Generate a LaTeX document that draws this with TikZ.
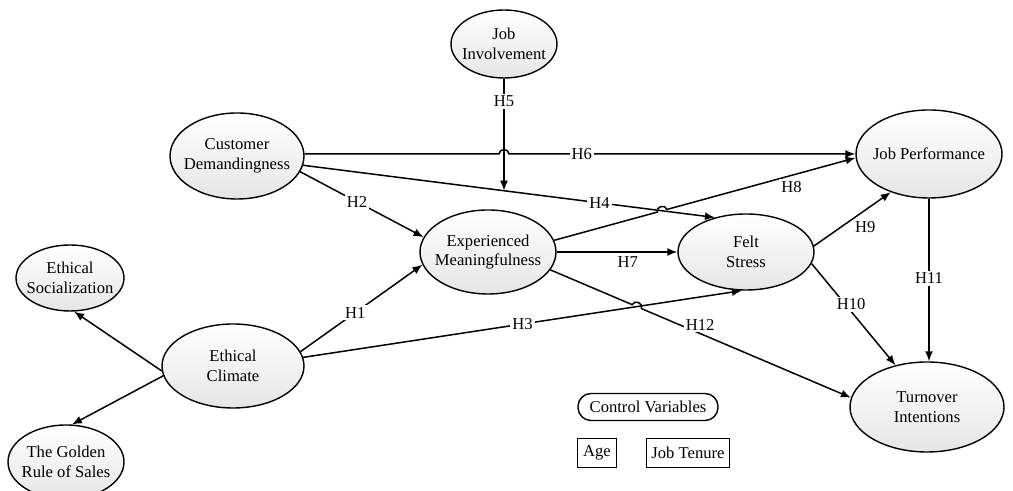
\documentclass[tikz,border=0pt]{standalone}
\usepackage{fontspec}
\setmainfont{Liberation Serif}
\usetikzlibrary{shapes,arrows.meta,calc,intersections}

\begin{document}
\begin{tikzpicture}[x=0.5pt, y=0.5pt,
      every node/.style={font=\fontsize{8.3}{9.8}\selectfont, align=center},
      construct/.style={shape=ellipse, draw, line width=0.7pt, inner xsep=-5pt, inner ysep=0pt,
        top color=white, bottom color=gray!20},
      ctrl/.style={draw, line width=0.7pt, inner sep=1pt, minimum height=14.5pt},
      hyp/.style={fill=white, inner sep=1pt},
      link/.style={draw, line width=0.75pt, -{Latex[length=5pt,width=4pt]}}]
  \useasboundingbox (0,0) rectangle (1013,491);
  % constructs
  \node[construct, minimum width=53pt, minimum height=34pt] (jobinv) at (504,447) {Job\\Involvement};
  \node[construct, minimum width=67pt, minimum height=43pt] (custdem) at (237,335) {Customer\\Demandingness};
  \node[construct, minimum width=73pt, minimum height=44pt] (jobperf) at (929,337) {Job Performance};
  \node[construct, minimum width=68pt, minimum height=42pt] (expmean) at (488,239) {Experienced\\Meaningfulness};
  \node[construct, minimum width=68pt, minimum height=38pt] (felt) at (746,239) {Felt\\Stress};
  \node[construct, minimum width=54pt, minimum height=33pt] (ethsoc) at (70,213) {Ethical\\Socialization};
  \node[construct, minimum width=71pt, minimum height=42pt] (ethclim) at (233,125) {Ethical\\Climate};
  \node[construct, minimum width=58pt, minimum height=37pt] (golden) at (66,29) {The Golden\\Rule of Sales};
  \node[construct, minimum width=77pt, minimum height=45pt] (turnover) at (927,84) {Turnover\\Intentions};
  % control variables
  \node[ctrl, rounded corners=6.5pt, minimum width=70pt, minimum height=13.5pt] (control) at (648,84) {Control Variables};
  \node[ctrl, minimum width=19.5pt] (age) at (597,38) {Age};
  \node[ctrl, minimum width=41.5pt] (tenure) at (688,38) {Job Tenure};
  % hypotheses
  \draw[link, name path=h4] (custdem.-8) -- coordinate[pos=0.487] (h5tip) node[hyp, pos=0.72] {H4} (felt.132);
  \draw[link] (jobinv.south) -- node[hyp, pos=0.2] {H5} (jobinv.south |- h5tip);
  \draw[link] (custdem.east |- jobperf.west) -- ([xshift=-2.5pt]jobinv.south |- jobperf.west)
    to[bend left=90, looseness=1.5] ([xshift=2.5pt]jobinv.south |- jobperf.west)
    -- node[hyp, pos=0.21] {H6} (jobperf.west);
  \draw[link] (custdem.-14) -- node[hyp, pos=0.46] {H2} (expmean.167);
  \draw[link] (ethclim.12) -- node[hyp, pos=0.45] {H1} (expmean.191);
  \draw[link, name path=h3] (ethclim.7) -- node[hyp, pos=0.5] {H3} (felt.264);
  \draw[link] (expmean) -- node[hyp, below=1pt, pos=0.59] {H7} (felt);
  \path[name path=h8] (expmean.10) -- (jobperf.183);
  \path[name intersections={of=h4 and h8, by=x48}];
  \draw[link] (expmean.10) -- ($(x48)!2.5pt!(expmean.10)$)
    to[bend left=90, looseness=1.5] ($(x48)!2.5pt!(jobperf.183)$)
    -- node[hyp, below=1.5pt, pos=0.66] {H8} (jobperf.183);
  \draw[link] (felt.5) -- node[hyp, anchor=north west, pos=0.5] {H9} (jobperf.225);
  \draw[link] (felt.-10) -- node[hyp, pos=0.4, xshift=3pt] {H10} (turnover.127);
  \draw[link] (jobperf.south) -- node[hyp, pos=0.49] {H11} (turnover.north -| jobperf.south);
  \path[name path=h12] (expmean.-16) -- (turnover.173);
  \path[name intersections={of=h3 and h12, by=x312}];
  \draw[link] (expmean.-16) -- ($(x312)!2.5pt!(expmean.-16)$)
    to[bend left=90, looseness=1.5] ($(x312)!2.5pt!(turnover.173)$)
    -- node[hyp, pos=0.28, yshift=4.5pt] {H12} (turnover.173);
  % indicators
  \draw[link] (ethclim.184) -- (ethsoc.-83);
  \draw[link] (ethclim.188) -- (golden.81);
\end{tikzpicture}
\end{document}
